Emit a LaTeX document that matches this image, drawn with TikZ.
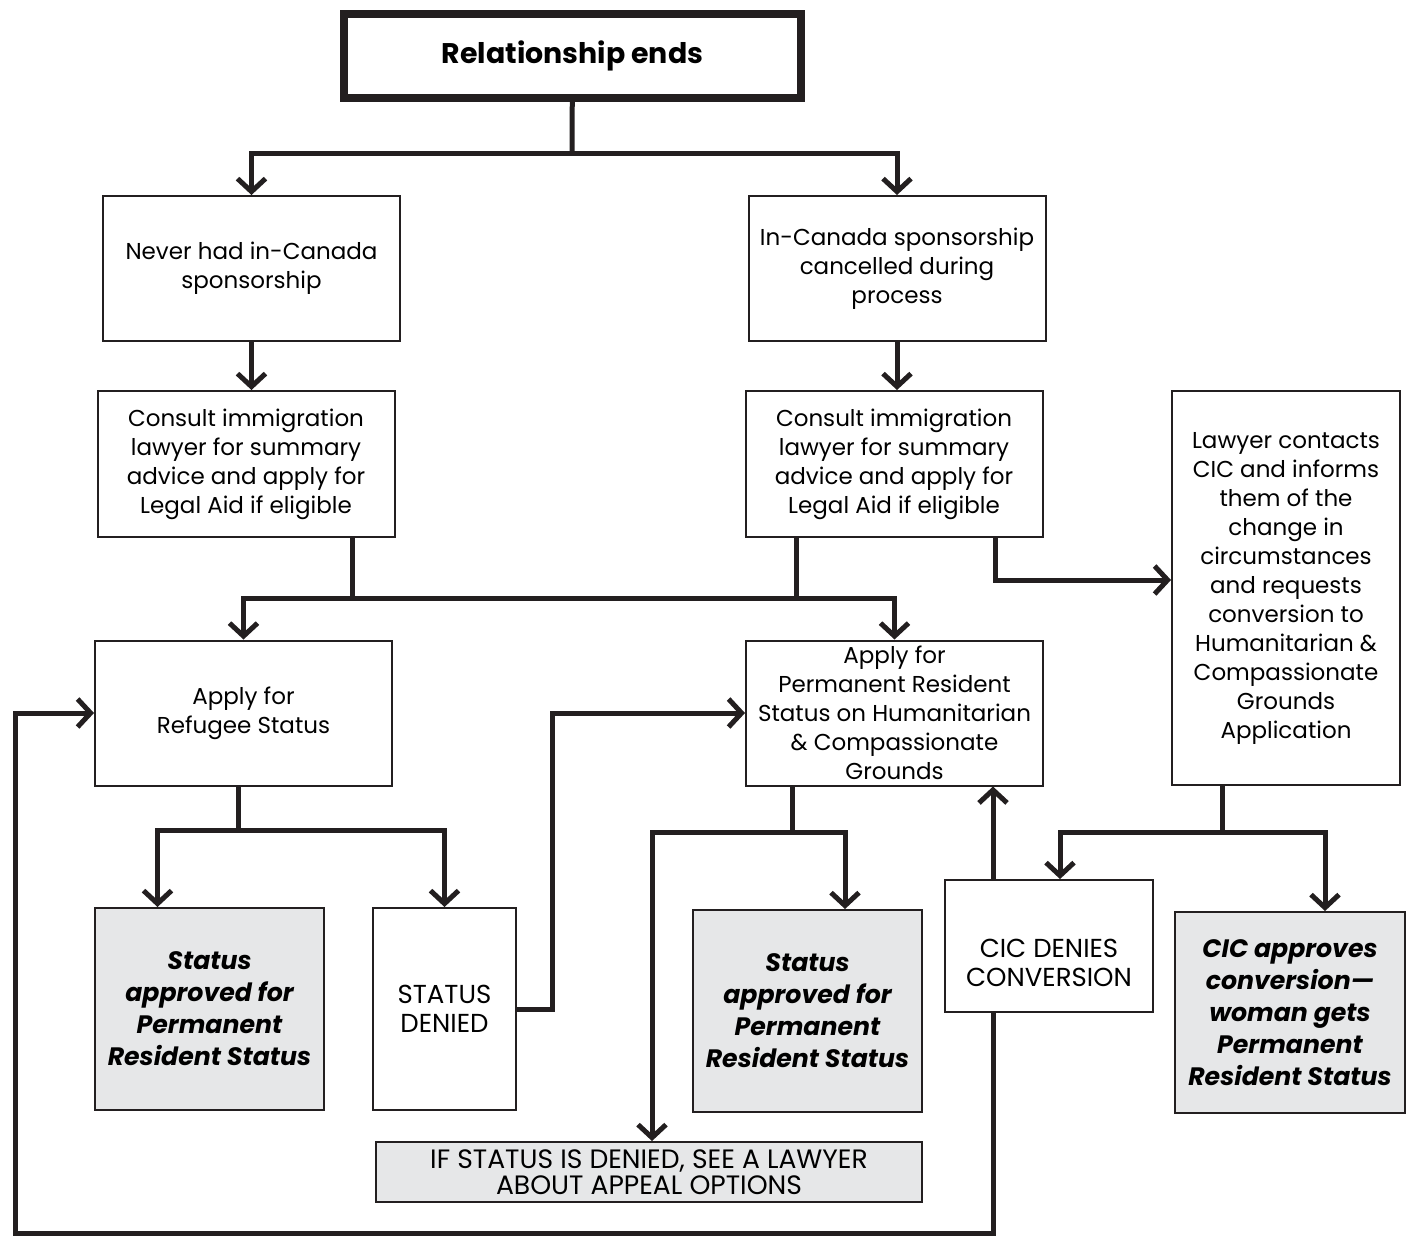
\documentclass[tikz,border=0pt]{standalone}
\usepackage{fontspec}
\setmainfont{Poppins}
\usepackage{tikz}
\usetikzlibrary{arrows.meta}
\definecolor{ink}{HTML}{231F20}
\definecolor{shade}{HTML}{E6E7E8}

\begin{document}
\begin{tikzpicture}[
      x=0.5pt, y=-0.5pt,
      box/.style={
        rectangle, draw=ink, line width=1pt,
        align=center, inner sep=0pt,
        font=\fontsize{11.5}{14.5}\selectfont
      },
      caps/.style={font=\fontsize{13}{14.5}\selectfont},
      std/.style={box, minimum width=148.5pt, minimum height=72.5pt},
      result/.style={
        box, fill=shade,
        minimum width=114.5pt, minimum height=101pt,
        font=\fontsize{12.6}{16}\selectfont\bfseries\itshape
      },
      link/.style={draw=ink, line width=2.5pt},
      arr/.style={link, -{Straight Barb[length=6.5pt,width=14pt]}}
    ]
    \useasboundingbox (0,0) rectangle (1411,1237);

    % Top node and the two ways in
    \node[box, line width=4pt, minimum width=228.5pt, minimum height=42pt,
          font=\fontsize{14.2}{16}\selectfont\bfseries] (ends) at (572.5,56) {Relationship ends};

    \node[std] (never) at (251.5,268.5) {Never had in-Canada\\sponsorship};
    \node[std] (cancelled) at (897,268.5) {In-Canada sponsorship\\cancelled during\\process};

    \node[std, minimum height=73pt] (consultL) at (246,464)
        {Consult immigration\\lawyer for summary\\advice and apply for\\Legal Aid if eligible};
    \node[std, minimum height=73pt] (consultR) at (894,464)
        {Consult immigration\\lawyer for summary\\advice and apply for\\Legal Aid if eligible};

    \node[box, minimum width=114pt, minimum height=197pt] (lawyer) at (1286,588)
        {Lawyer contacts\\CIC and informs\\them of the\\change in\\circumstances\\and requests\\conversion to\\Humanitarian \&\\Compassionate\\Grounds\\Application};

    % Applications
    \node[std] (refugee) at (243.5,713) {Apply for\\Refugee Status};
    \node[std] (prhc) at (894.5,713)
        {Apply for\\Permanent Resident\\Status on Humanitarian\\\& Compassionate\\Grounds};

    % Outcomes
    \node[result] (approved1) at (209.5,1009) {Status\\approved for\\Permanent\\Resident Status};
    \node[box, caps, minimum width=71.5pt, minimum height=101pt] (denied) at (444.5,1009) {STATUS\\DENIED};
    \node[result] (approved2) at (807.5,1011) {Status\\approved for\\Permanent\\Resident Status};
    \node[box, fill=shade, minimum width=273pt, minimum height=30pt,
          font=\fontsize{13.3}{13}\selectfont] (appeal) at (649,1172)
        {IF STATUS IS DENIED, SEE A LAWYER\\ABOUT APPEAL OPTIONS};
    \node[box, caps, minimum width=104pt, minimum height=66pt] (cicdeny) at (1049,946)
        {\rule{0pt}{26pt}CIC DENIES\\CONVERSION};
    \node[result, minimum width=115pt, minimum height=100.5pt] (cicapp) at (1290,1012.5)
        {CIC approves\\conversion—\\woman gets\\Permanent\\Resident Status};

    % Connectors
    \coordinate (topsplit) at (572,153);
    \draw[link] (ends) -- (topsplit);
    \draw[arr] (topsplit) -| (never);
    \draw[arr] (topsplit) -| (cancelled);

    \draw[arr] (never) -- (never |- consultL.north);
    \draw[arr] (cancelled) -- (cancelled |- consultR.north);

    \coordinate (midsplit) at (352,598);
    \draw[link] ([xshift=53pt]consultL.south) -- (midsplit);
    \draw[link] ([xshift=-49pt]consultR.south) -- ([xshift=-49pt]consultR.south |- midsplit);
    \draw[arr] (midsplit) -| (refugee);
    \draw[arr] (midsplit) -| (prhc);
    \draw[arr] ([xshift=50.5pt]consultR.south) |- ([yshift=4pt]lawyer.west);

    \coordinate (refsplit) at (238,830);
    \draw[link] (refugee.south -| refsplit) -- (refsplit);
    \draw[arr] (refsplit) -| ([xshift=-26pt]approved1.north);
    \draw[arr] (refsplit) -| (denied);
    \draw[arr] (denied.east) -- ++(35,0) |- (prhc.west);

    \coordinate (prsplit) at (792,832);
    \draw[link] (prhc.south -| prsplit) -- (prsplit);
    \draw[arr] (prsplit) -| ([xshift=18.75pt]approved2.north);
    \draw[arr] (prsplit) -| ([xshift=1.5pt]appeal.north);

    \coordinate (lawsplit) at (1222,832);
    \draw[link] (lawyer.south -| lawsplit) -- (lawsplit);
    \draw[arr] (lawsplit) -| ([xshift=5.5pt]cicdeny.north);
    \draw[arr] (lawsplit) -| ([xshift=17.5pt]cicapp.north);

    % Denied conversion goes back up, and round to the refugee claim
    \draw[arr] ([xshift=-28pt]cicdeny.north) -- ([xshift=-28pt]cicdeny.north |- prhc.south);
    \coordinate (loop) at (15,1233);
    \draw[arr] ([xshift=-28pt]cicdeny.south) |- (loop) |- (refugee.west);
\end{tikzpicture}
\end{document}
